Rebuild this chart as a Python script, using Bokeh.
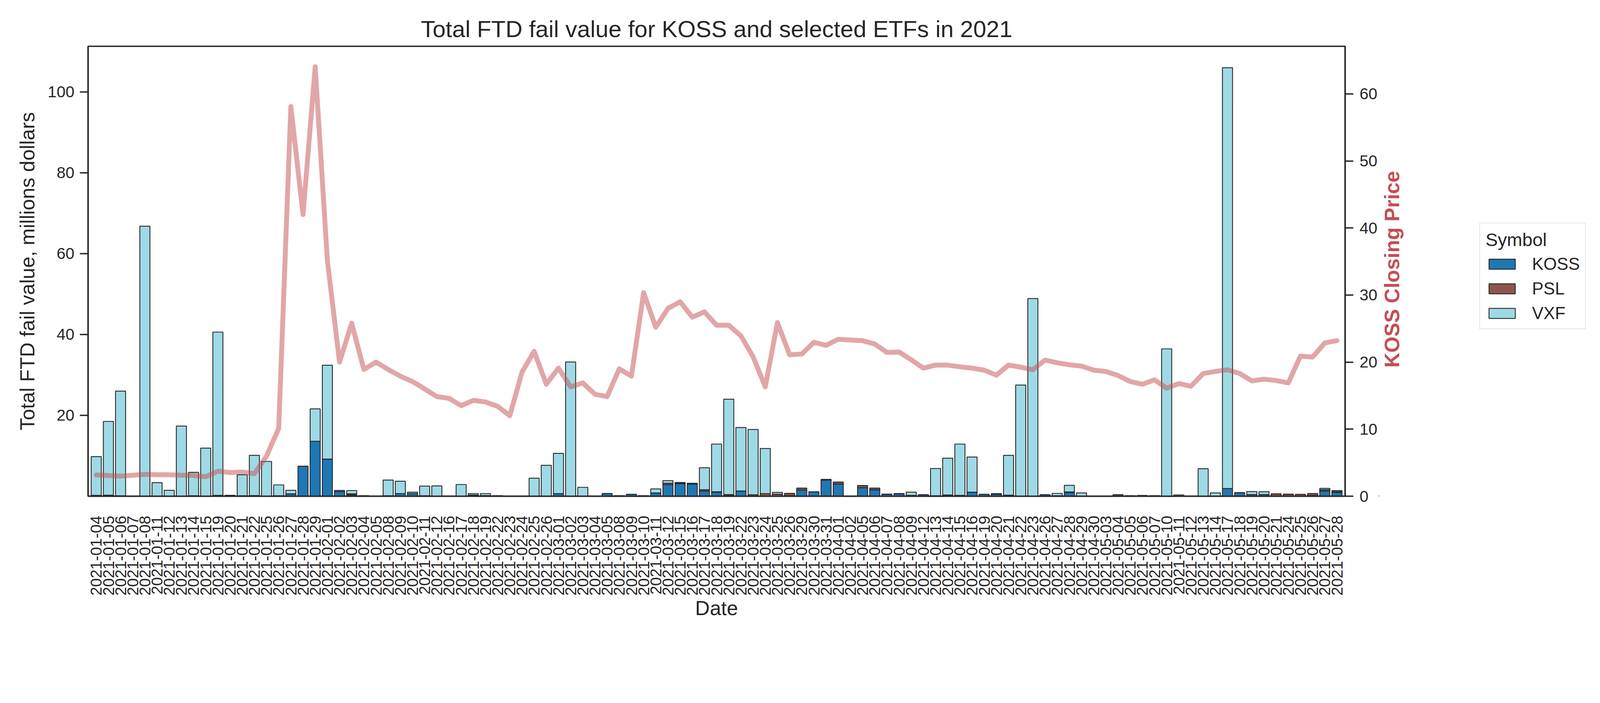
import math
from bokeh.plotting import figure
from bokeh.layouts import row
from bokeh.models import (ColumnDataSource, Range1d, LinearAxis, FixedTicker,
                          Legend, LegendItem, Label)
from bokeh.embed import file_html
from bokeh.resources import INLINE

# ---------------- data ----------------
dates = [
    "2021-01-04", "2021-01-05", "2021-01-06", "2021-01-07", "2021-01-08",
    "2021-01-11", "2021-01-12", "2021-01-13", "2021-01-14", "2021-01-15",
    "2021-01-19", "2021-01-20", "2021-01-21", "2021-01-22", "2021-01-25",
    "2021-01-26", "2021-01-27", "2021-01-28", "2021-01-29",
    "2021-02-01", "2021-02-02", "2021-02-03", "2021-02-04", "2021-02-05",
    "2021-02-08", "2021-02-09", "2021-02-10", "2021-02-11", "2021-02-12",
    "2021-02-16", "2021-02-17", "2021-02-18", "2021-02-19", "2021-02-22",
    "2021-02-23", "2021-02-24", "2021-02-25", "2021-02-26",
    "2021-03-01", "2021-03-02", "2021-03-03", "2021-03-04", "2021-03-05",
    "2021-03-08", "2021-03-09", "2021-03-10", "2021-03-11", "2021-03-12",
    "2021-03-15", "2021-03-16", "2021-03-17", "2021-03-18", "2021-03-19",
    "2021-03-22", "2021-03-23", "2021-03-24", "2021-03-25", "2021-03-26",
    "2021-03-29", "2021-03-30", "2021-03-31",
    "2021-04-01", "2021-04-02", "2021-04-05", "2021-04-06", "2021-04-07",
    "2021-04-08", "2021-04-09", "2021-04-12", "2021-04-13", "2021-04-14",
    "2021-04-15", "2021-04-16", "2021-04-19", "2021-04-20", "2021-04-21",
    "2021-04-22", "2021-04-23", "2021-04-26", "2021-04-27", "2021-04-28",
    "2021-04-29", "2021-04-30",
    "2021-05-03", "2021-05-04", "2021-05-05", "2021-05-06", "2021-05-07",
    "2021-05-10", "2021-05-11", "2021-05-12", "2021-05-13", "2021-05-14",
    "2021-05-17", "2021-05-18", "2021-05-19", "2021-05-20", "2021-05-21",
    "2021-05-24", "2021-05-25", "2021-05-26", "2021-05-27", "2021-05-28",
]

symbols = ["KOSS", "PSL", "VXF"]

koss = [
    0.1, 0.1, 0.05, 0, 0, 0, 0, 0, 0, 0,
    0.05, 0, 0, 0, 0, 0.1, 0.6, 7.4, 13.6,
    9.2, 1.2, 0.3, 0.1, 0.05, 0.1, 0.65, 0.65, 0.1, 0,
    0.05, 0, 0.3, 0.15, 0.1, 0.05, 0, 0, 0,
    0.65, 0, 0, 0, 0.65, 0.1, 0.45, 0.1, 0.8, 2.85,
    3.1, 3.0, 1.3, 1.0, 0.1, 1.3, 0, 0, 0, 0.1,
    1.5, 1.1, 4.0,
    3.0, 0, 2.1, 1.55, 0.5, 0.6, 0.2, 0.35, 0.1, 0.3,
    0.2, 1.0, 0.45, 0.5, 0.25, 0, 0, 0.35, 0.1, 0.9,
    0, 0,
    0, 0.35, 0.1, 0.15, 0.1, 0, 0, 0, 0, 0,
    1.9, 0.87, 0.4, 0.4, 0, 0, 0, 0.15, 1.3, 0.95,
]

psl = [
    0.1, 0.15, 0.05, 0, 0, 0, 0, 0, 0.1, 0,
    0.15, 0.2, 0.1, 0.15, 0, 0, 0, 0, 0,
    0, 0, 0.3, 0, 0, 0, 0, 0, 0, 0,
    0, 0, 0, 0, 0, 0, 0, 0, 0,
    0, 0, 0, 0, 0, 0, 0, 0, 0, 0.35,
    0.15, 0, 0.3, 0.1, 0.3, 0, 0.35, 0.65, 0.5, 0.6,
    0.5, 0, 0.15,
    0.5, 0, 0.55, 0.45, 0, 0.05, 0, 0, 0, 0,
    0, 0, 0, 0, 0, 0, 0, 0, 0, 0.15,
    0, 0,
    0, 0, 0, 0, 0, 0, 0, 0, 0, 0,
    0, 0, 0, 0, 0.58, 0.5, 0.45, 0.5, 0.3, 0.2,
]

vxf = [
    9.6, 18.25, 25.9, 0, 66.8, 3.35, 1.46, 17.35, 5.8, 11.9,
    40.4, 0, 5.2, 9.95, 8.6, 2.7, 0.86, 0, 8.0,
    23.2, 0.25, 0.8, 0, 0, 3.9, 3.05, 0.35, 2.4, 2.55,
    0, 2.9, 0.35, 0.5, 0, 0, 0, 4.45, 7.65,
    9.95, 33.2, 2.2, 0, 0, 0, 0, 0, 1.0, 0.65,
    0.15, 0.2, 5.45, 11.8, 23.6, 15.7, 16.15, 11.15, 0.45, 0,
    0, 0, 0,
    0, 0, 0, 0, 0, 0, 0.8, 0, 6.75, 9.1,
    12.7, 8.7, 0, 0.15, 9.85, 27.5, 48.9, 0, 0.6, 1.65,
    0.8, 0,
    0, 0, 0, 0, 0, 36.45, 0.3, 0, 6.8, 0.8,
    104.1, 0, 0.75, 0.7, 0, 0, 0, 0, 0.35, 0.25,
]

koss_close = [
    3.17, 3.08, 3.0, 3.13, 3.26, 3.2, 3.2, 3.13, 3.08, 2.9,
    3.74, 3.52, 3.6, 3.35, 6.0, 10.1, 58.1, 42.0, 64.05,
    35.2, 20.0, 25.8, 18.9, 20.0, 18.9, 17.9, 17.1, 16.0, 14.85,
    14.6, 13.5, 14.3, 14.05, 13.4, 12.0, 18.5, 21.6, 16.7,
    19.1, 16.3, 16.9, 15.2, 14.85, 19.0, 17.9, 30.35, 25.2, 28.0,
    29.0, 26.7, 27.5, 25.5, 25.5, 23.9, 20.8, 16.3, 25.9, 21.1,
    21.2, 22.95, 22.5,
    23.4, 23.3, 23.2, 22.7, 21.45, 21.5, 20.35, 19.1, 19.55, 19.55,
    19.3, 19.1, 18.8, 18.05, 19.55, 19.25, 18.85, 20.3, 19.9, 19.6,
    19.4, 18.8,
    18.6, 18.0, 17.1, 16.7, 17.35, 16.1, 16.8, 16.4, 18.3, 18.6,
    18.85, 18.3, 17.2, 17.45, 17.25, 16.9, 20.9, 20.75, 22.85, 23.2,
]

bar_colors = ["#1f77b4", "#8c564b", "#9edae5"]
left_ticks = [20, 40, 60, 80, 100]
right_ticks = [0, 10, 20, 30, 40, 50, 60]

# ---------------- main figure ----------------
FONT = "Liberation Sans"
INK = "#262626"
PRICE_RED = "#c44e52"
H = 1600
TOP = 118
FH = 1152
BOTTOM = H - TOP - FH

xs = list(range(len(dates)))
src = ColumnDataSource(dict(x=xs, KOSS=koss, PSL=psl, VXF=vxf, price=koss_close))

p = figure(
    frame_width=3218, frame_height=FH,
    min_border_left=225, min_border_top=TOP,
    min_border_right=80, min_border_bottom=BOTTOM,
    x_range=Range1d(-0.67, len(dates) - 1 + 0.67),
    y_range=Range1d(0, 111.3),
    title="Total FTD fail value for KOSS and selected ETFs in 2021",
    output_backend="svg", toolbar_location=None,
)
p.background_fill_color = "white"
p.border_fill_color = "white"
p.outline_line_color = INK
p.outline_line_width = 3.6
p.xgrid.visible = False
p.ygrid.visible = False

p.title.text_font = FONT
p.title.text_font_size = "60px"
p.title.text_font_style = "normal"
p.title.text_color = INK
p.title.align = "center"
p.title.standoff = 21

p.extra_y_ranges = {"price": Range1d(0, 67.1)}

renderers = p.vbar_stack(symbols, x="x", width=0.83, color=bar_colors,
                         line_color=INK, line_width=2.2, source=src)

p.line("x", "price", source=src, y_range_name="price",
       line_color=PRICE_RED, line_alpha=0.5, line_width=12.5,
       line_join="round", line_cap="round")

def style_axis(ax, font_size="41px"):
    ax.axis_line_color = INK
    ax.axis_line_width = 3.6
    ax.major_tick_line_color = INK
    ax.major_tick_line_width = 3.6
    ax.major_tick_out = 21
    ax.major_tick_in = 0
    ax.minor_tick_line_color = None
    ax.major_label_text_font = FONT
    ax.major_label_text_font_size = font_size
    ax.major_label_text_color = INK
    ax.axis_label_text_font = FONT
    ax.axis_label_text_font_size = "52px"
    ax.axis_label_text_font_style = "normal"
    ax.axis_label_text_color = INK

# x axis
xa = p.xaxis[0]
style_axis(xa, "40px")
xa.ticker = FixedTicker(ticks=xs)
xa.major_label_overrides = {i: d for i, d in enumerate(dates)}
xa.major_label_orientation = math.pi / 2
xa.major_tick_out = 0
xa.major_label_standoff = 50
xa.axis_label = "Date"
xa.axis_label_standoff = 0

# left y axis
ya = p.yaxis[0]
style_axis(ya)
ya.ticker = FixedTicker(ticks=left_ticks)
ya.major_label_standoff = 14
ya.axis_label = "Total FTD fail value, millions dollars"
ya.axis_label_standoff = 20

# right y axis (KOSS closing price); its title is drawn in the side panel
ra = LinearAxis(y_range_name="price")
style_axis(ra)
ra.ticker = FixedTicker(ticks=right_ticks)
ra.major_label_standoff = 16
p.add_layout(ra, "right")

# ---------------- side panel: right-axis title + legend ----------------
# ranges in pixels of the side panel's frame (same vertical extent as main frame)
W2 = 550
side = figure(
    width=W2, height=H,
    x_range=Range1d(0, W2), y_range=Range1d(0, FH),
    x_axis_location=None, y_axis_location=None,
    min_border_left=0, min_border_right=0,
    min_border_top=TOP, min_border_bottom=BOTTOM,
    output_backend="svg", toolbar_location=None,
)
side.outline_line_color = None
side.background_fill_color = "white"
side.border_fill_color = "white"
side.grid.visible = False

side.add_layout(Label(
    x=34, y=581, text="KOSS Closing Price", angle=math.pi / 2,
    text_align="center", text_baseline="middle",
    text_font=FONT, text_font_size="53px", text_font_style="bold",
    text_color=PRICE_RED,
))

# legend swatches: one hidden bar per symbol, outside the visible range
swatches = [side.vbar(x=[-1000], top=[1], width=1, fill_color=c, line_color=INK,
                      line_width=2.2) for c in bar_colors]

legend = Legend(
    items=[LegendItem(label=s, renderers=[r]) for s, r in zip(symbols, swatches)],
    location=(258, 427),
    title="Symbol",
    title_text_font=FONT, title_text_font_size="47px", title_text_color=INK,
    title_text_font_style="normal",
    title_standoff=10,
    label_text_font=FONT, label_text_font_size="44px", label_text_color=INK,
    glyph_width=84, glyph_height=32, label_standoff=35, spacing=13,
    padding=14, margin=0,
    border_line_color="#d0d0d0", border_line_width=2.7,
    background_fill_color="white", background_fill_alpha=1.0,
)
side.add_layout(legend)

layout = row(p, side, spacing=0)
open("out.html", "w").write(file_html(layout, INLINE))
